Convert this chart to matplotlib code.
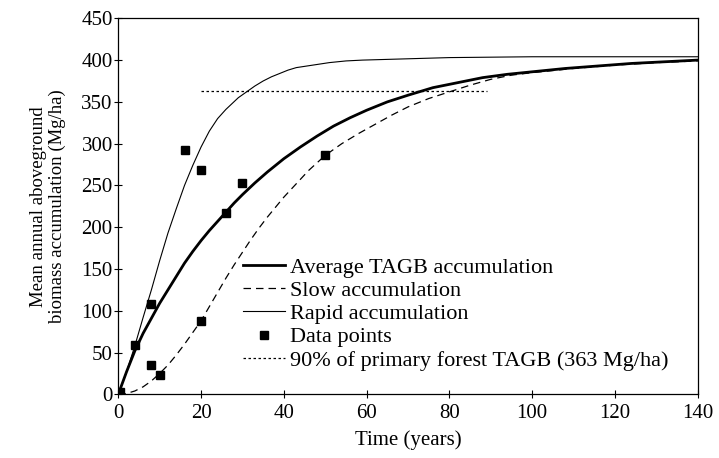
import matplotlib
matplotlib.use("Agg")
import matplotlib.pyplot as plt

plt.rcParams['font.family'] = ['Liberation Serif', 'DejaVu Serif']

# Fitted curves (years, Mg/ha)
avg_t = [0, 2, 4, 6, 8, 10, 12, 14, 16, 18, 20, 22, 24, 26, 28, 30, 33, 36,
         40, 44, 48, 52, 56, 60, 65, 70, 76, 82, 88, 94, 100, 108, 116, 124,
         132, 140]
avg_y = [0, 27, 52, 73, 91, 109, 125, 141, 157, 171, 184, 196, 207, 218, 229,
         239, 253, 266, 282, 296, 309, 321, 331, 340, 350, 358, 367, 373, 379,
         383, 386, 390, 393, 396, 398, 400]

slow_t = [0, 2, 4, 6, 8, 10, 12, 14, 16, 18, 20, 22, 24, 26, 28, 30, 32, 34,
          36, 38, 40, 43, 46, 50, 54, 58, 62, 66, 70, 75, 80, 85, 90, 95, 100,
          110, 120, 130, 140]
slow_y = [0, 1, 4, 9, 16, 25, 35, 47, 60, 74, 88, 105, 122, 139, 155, 170, 185,
          199, 212, 224, 236, 252, 268, 286, 300, 312, 323, 334, 344, 354, 362,
          370, 377, 382, 385, 390, 394, 397, 399]

rapid_t = [0, 2, 4, 6, 8, 10, 12, 14, 16, 18, 20, 22, 24, 26, 29, 31, 33, 35,
           37, 39, 41, 43, 47, 51, 55, 59, 66, 80, 100, 140]
rapid_y = [0, 27, 58, 92, 125, 160, 193, 222, 250, 274, 296, 315, 330, 341,
           355, 362, 369, 375, 380, 384, 388, 391, 394, 397, 399, 400, 401,
           403, 404, 404]

# Observed data points
pts_t = [0.5, 4, 8, 8, 10, 16, 20, 20, 26, 30, 50]
pts_y = [3, 59, 108, 35, 23, 292, 269, 88, 217, 253, 287]

# 90% of primary forest TAGB
ref_t = [20, 89]
ref_y = [363, 363]

fig = plt.figure(figsize=(7.19, 4.58), dpi=100)
ax = fig.add_axes([0.1645, 0.139, 0.806, 0.821])

ax.plot(avg_t, avg_y, color='black', lw=2.0, label='Average TAGB accumulation')
ax.plot(slow_t, slow_y, color='black', lw=0.9, ls=(0, (6, 4)), label='Slow accumulation')
ax.plot(rapid_t, rapid_y, color='black', lw=0.8, label='Rapid accumulation')
ax.plot(pts_t, pts_y, ls='none', marker='s', ms=6, color='black', label='Data points')
ax.plot(ref_t, ref_y, color='black', lw=0.9, ls=(0, (2, 2)),
        label='90% of primary forest TAGB (363 Mg/ha)')

ax.set_xlim(0, 140)
ax.set_ylim(0, 450)
ax.set_xticks(range(0, 141, 20))
ax.set_yticks(range(0, 451, 50))
ax.tick_params(direction='inout', length=6, width=0.8, labelsize=15, pad=1)
ax.tick_params(axis='x', pad=4)
for s in ax.spines.values():
    s.set_linewidth(0.9)

ax.set_xlabel('Time (years)', fontsize=15, labelpad=5)
ax.set_ylabel('Mean annual aboveground\nbiomass accumulation (Mg/ha)',
              fontsize=13.5, linespacing=1.15)
ax.yaxis.set_label_coords(-0.09, 0.5)

ax.legend(loc='upper left', bbox_to_anchor=(0.215, 0.365), frameon=False,
          fontsize=16, handlelength=1.9, handletextpad=0.2, labelspacing=0.12,
          borderpad=0, borderaxespad=0, numpoints=1)

fig.savefig('out.png', dpi=100)
